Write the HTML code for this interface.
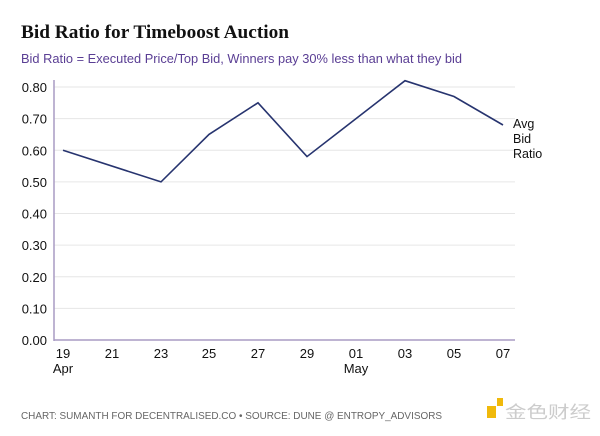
<!DOCTYPE html>
<html><head><style>
body{margin:0;background:#fff;}
svg text{font-family:"Liberation Sans",sans-serif;}
</style></head><body>
<svg width="600" height="431" xmlns="http://www.w3.org/2000/svg">
<rect width="600" height="431" fill="#fff"/>
<text x="21" y="38" font-weight="bold" font-size="19" fill="#111" textLength="268" lengthAdjust="spacingAndGlyphs" style="font-family:'Liberation Serif',serif">Bid Ratio for Timeboost Auction</text>
<text x="21" y="63" font-size="12.5" fill="#5a3e94" textLength="441" lengthAdjust="spacingAndGlyphs">Bid Ratio = Executed Price/Top Bid, Winners pay 30% less than what they bid</text>
<g stroke="#e6e6e6" stroke-width="1">
<line x1="54" x2="515" y1="87" y2="87"/><line x1="54" x2="515" y1="118.6" y2="118.6"/>
<line x1="54" x2="515" y1="150.3" y2="150.3"/><line x1="54" x2="515" y1="181.9" y2="181.9"/>
<line x1="54" x2="515" y1="213.5" y2="213.5"/><line x1="54" x2="515" y1="245.1" y2="245.1"/>
<line x1="54" x2="515" y1="276.8" y2="276.8"/><line x1="54" x2="515" y1="308.4" y2="308.4"/>
</g>
<line x1="54" x2="54" y1="80" y2="341" stroke="#a99bc4" stroke-width="1.5"/>
<line x1="54" x2="515" y1="340" y2="340" stroke="#a99bc4" stroke-width="1.5"/>
<g font-size="13" fill="#111" text-anchor="end">
<text x="47" y="92">0.80</text><text x="47" y="123.6">0.70</text><text x="47" y="155.3">0.60</text>
<text x="47" y="186.9">0.50</text><text x="47" y="218.5">0.40</text><text x="47" y="250.1">0.30</text>
<text x="47" y="281.8">0.20</text><text x="47" y="313.4">0.10</text><text x="47" y="345">0.00</text>
</g>
<g font-size="13" fill="#111" text-anchor="middle">
<text x="63" y="358">19</text><text x="112" y="358">21</text><text x="161" y="358">23</text>
<text x="209" y="358">25</text><text x="258" y="358">27</text><text x="307" y="358">29</text>
<text x="356" y="358">01</text><text x="405" y="358">03</text><text x="454" y="358">05</text>
<text x="503" y="358">07</text>
<text x="63" y="373">Apr</text><text x="356" y="373">May</text>
</g>
<polyline fill="none" stroke="#27346f" stroke-width="1.6"
points="63,150.3 161,181.9 209,134.4 258,102.8 307,156.6 405,80.7 454,96.5 503,125"/>
<g font-size="12.5" fill="#111">
<text x="513" y="128">Avg</text><text x="513" y="143">Bid</text><text x="513" y="158">Ratio</text>
</g>
<text x="21" y="419" font-size="10.5" fill="#666" textLength="421" lengthAdjust="spacingAndGlyphs">CHART: SUMANTH FOR DECENTRALISED.CO • SOURCE: DUNE @ ENTROPY_ADVISORS</text>
<rect x="487" y="406" width="9" height="12" fill="#f0b90b"/>
<rect x="497" y="398" width="6" height="8" fill="#f0b90b"/>
<text x="505" y="418" font-size="17" fill="#ccc" textLength="86" lengthAdjust="spacingAndGlyphs" style="font-family:'Noto Sans CJK SC',sans-serif">金色财经</text>
</svg>
</body></html>
